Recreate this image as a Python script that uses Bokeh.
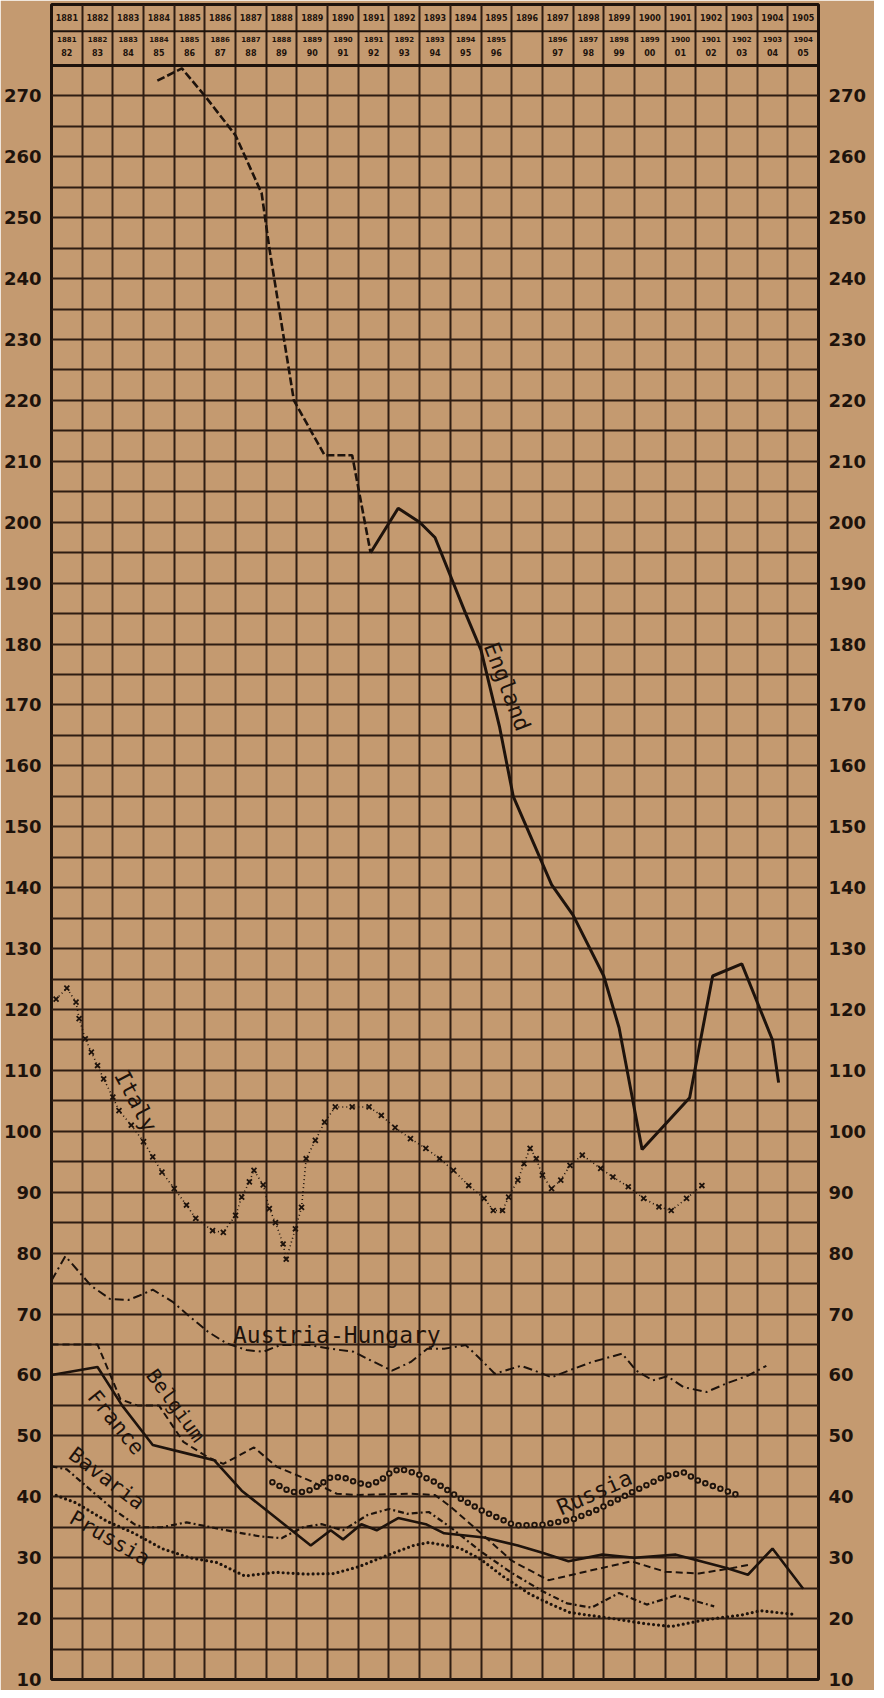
from bokeh.plotting import figure
from bokeh.models import Range1d, LinearAxis, FixedTicker, Grid, Span
from bokeh.core.properties import value
from bokeh.embed import file_html
from bokeh.resources import INLINE

# ---------------- DATA ----------------
header_years = ["1881", "1882", "1883", "1884", "1885", "1886", "1887", "1888", "1889",
                "1890", "1891", "1892", "1893", "1894", "1895", "1896", "1897", "1898",
                "1899", "1900", "1901", "1902", "1903", "1904", "1905"]
header_fiscal_top = ["1881", "1882", "1883", "1884", "1885", "1886", "1887", "1888", "1889",
                     "1890", "1891", "1892", "1893", "1894", "1895", "", "1896", "1897",
                     "1898", "1899", "1900", "1901", "1902", "1903", "1904"]
header_fiscal_bottom = ["82", "83", "84", "85", "86", "87", "88", "89", "90", "91", "92",
                        "93", "94", "95", "96", "", "97", "98", "99", "00", "01", "02",
                        "03", "04", "05"]
y_ticks = [10, 20, 30, 40, 50, 60, 70, 80, 90, 100, 110, 120, 130, 140, 150, 160, 170,
           180, 190, 200, 210, 220, 230, 240, 250, 260, 270]

england_early_year = [1884.45, 1885.25, 1886.0, 1887.0, 1887.85, 1888.1, 1888.9, 1889.9,
                      1890.8, 1891.4]
england_early_value = [272.5, 274.5, 270.0, 263.5, 254.0, 245.0, 220.0, 211.0, 211.0, 195.0]
england_year = [1891.4, 1892.3, 1893.0, 1893.5, 1894.5, 1895.0, 1895.6, 1896.05, 1897.3,
                1898.0, 1899.0, 1899.5, 1900.25, 1901.8, 1902.55, 1903.5, 1904.5, 1904.7]
england_value = [195.0, 202.3, 200.0, 197.5, 185.0, 179.0, 166.5, 155.0, 140.5, 135.5,
                 125.5, 117.0, 97.0, 105.5, 125.5, 127.5, 115.0, 108.0]

italy_year = [1881.15, 1881.5, 1881.8, 1881.9, 1882.1, 1882.3, 1882.5, 1882.7, 1883.0,
              1883.2, 1883.6, 1884.0, 1884.3, 1884.6, 1885.0, 1885.4, 1885.7, 1886.25,
              1886.6, 1887.0, 1887.2, 1887.45, 1887.6, 1887.9, 1888.1, 1888.3, 1888.55,
              1888.65, 1888.95, 1889.15, 1889.3, 1889.6, 1889.9, 1890.25, 1890.8, 1891.35,
              1891.75, 1892.2, 1892.7, 1893.2, 1893.65, 1894.1, 1894.6, 1895.1, 1895.4,
              1895.7, 1895.9, 1896.2, 1896.4, 1896.6, 1896.8, 1897.0, 1897.3, 1897.6,
              1897.9, 1898.3, 1898.9, 1899.3, 1899.8, 1900.3, 1900.8, 1901.2, 1901.7,
              1902.2]
italy_value = [121.7, 123.5, 121.2, 118.5, 115.2, 113.0, 110.8, 108.6, 105.6, 103.4, 101.0,
               98.3, 95.8, 93.3, 90.6, 87.9, 85.7, 83.7, 83.4, 86.2, 89.2, 91.7, 93.6,
               91.2, 87.3, 85.0, 81.5, 79.0, 84.0, 87.5, 95.5, 98.5, 101.5, 104.0, 104.0,
               104.0, 102.6, 100.6, 98.8, 97.2, 95.5, 93.6, 91.1, 89.0, 87.0, 87.0, 89.2,
               92.0, 94.7, 97.2, 95.5, 92.8, 90.6, 92.0, 94.4, 96.1, 93.9, 92.5, 90.9,
               89.0, 87.6, 87.0, 89.0, 91.1]

austria_year = [1881.0, 1881.45, 1882.3, 1882.9, 1883.5, 1883.85, 1884.3, 1884.95, 1885.5,
                1886.1, 1886.7, 1887.35, 1887.9, 1888.45, 1889.4, 1890.1, 1890.85, 1891.4,
                1892.1, 1892.7, 1893.25, 1893.8, 1894.5, 1894.9, 1895.45, 1896.3, 1896.75,
                1897.3, 1897.85, 1898.6, 1899.6, 1900.06, 1900.6, 1901.07, 1901.6, 1902.35,
                1903.0, 1903.7, 1904.3]
austria_value = [75.5, 79.5, 74.6, 72.5, 72.3, 73.0, 74.0, 72.0, 69.6, 67.1, 65.2, 64.1,
                 63.8, 64.9, 64.9, 64.3, 63.8, 62.4, 60.7, 62.1, 64.3, 64.3, 64.9, 63.0,
                 60.2, 61.5, 60.7, 59.6, 60.7, 62.1, 63.5, 60.7, 59.1, 59.8, 58.0, 57.2,
                 58.6, 59.9, 61.5]

belgium_year = [1881.0, 1882.5, 1883.25, 1883.8, 1884.5, 1885.3, 1886.1, 1886.6, 1887.6,
                1888.35, 1889.4, 1890.3, 1891.0, 1892.7, 1893.5, 1894.0, 1895.0, 1896.0,
                1897.2, 1898.4, 1899.9, 1901.0, 1902.1, 1903.2, 1903.7]
belgium_value = [65.0, 65.0, 56.0, 55.0, 55.0, 49.0, 46.5, 45.4, 48.1, 44.9, 42.7, 40.5,
                 40.3, 40.5, 40.3, 38.4, 34.0, 29.5, 26.3, 27.7, 29.4, 27.7, 27.4, 28.3,
                 28.8]

france_year = [1881.0, 1882.5, 1883.3, 1884.3, 1885.5, 1886.3, 1887.2, 1888.2, 1889.45,
               1890.1, 1890.5, 1891.1, 1891.6, 1892.3, 1893.2, 1893.8, 1895.1, 1896.2,
               1897.0, 1897.85, 1898.95, 1900.0, 1901.35, 1902.1, 1903.0, 1903.7, 1904.5,
               1905.5]
france_value = [60.0, 61.3, 55.0, 48.5, 47.0, 46.0, 41.0, 37.0, 32.0, 34.5, 33.0, 35.5,
                34.5, 36.5, 35.5, 34.0, 33.3, 32.0, 30.8, 29.4, 30.5, 30.0, 30.5, 29.5,
                28.3, 27.2, 31.5, 24.9]

bavaria_year = [1881.0, 1881.5, 1882.3, 1883.0, 1883.7, 1884.0, 1884.6, 1885.4, 1886.2,
                1887.0, 1887.8, 1888.5, 1889.2, 1889.8, 1890.5, 1891.3, 1892.0, 1892.6,
                1893.3, 1894.0, 1895.0, 1896.0, 1897.0, 1897.8, 1898.6, 1899.5, 1900.4,
                1901.35, 1902.6]
bavaria_value = [45.0, 44.5, 41.0, 38.0, 35.5, 35.0, 35.0, 35.8, 35.0, 34.2, 33.5, 33.2,
                 35.0, 35.5, 34.5, 37.0, 38.0, 37.2, 37.5, 35.0, 31.0, 27.5, 24.5, 22.5,
                 21.8, 24.2, 22.3, 23.8, 22.0]

prussia_year = [1881.0, 1881.8, 1882.8, 1883.7, 1884.6, 1885.5, 1886.4, 1887.3, 1888.3,
                1889.3, 1890.2, 1891.0, 1892.0, 1892.8, 1893.3, 1894.3, 1895.0, 1895.7,
                1896.6, 1897.3, 1897.9, 1899.3, 1900.3, 1901.2, 1902.3, 1903.5, 1904.1,
                1905.2]
prussia_value = [40.5, 39.0, 36.0, 34.0, 31.5, 30.0, 29.2, 27.0, 27.6, 27.3, 27.4, 28.5,
                 30.5, 32.0, 32.5, 31.6, 29.7, 27.0, 24.0, 22.3, 21.0, 20.0, 19.2, 18.7,
                 19.8, 20.6, 21.3, 20.7]

russia_year = [1888.2, 1888.8, 1889.3, 1889.7, 1890.1, 1890.5, 1890.9, 1891.3, 1891.7,
               1892.0, 1892.35, 1892.9, 1893.5, 1894.3, 1895.0, 1896.1, 1897.0, 1898.0,
               1898.8, 1899.9, 1901.0, 1901.6, 1902.1, 1903.3]
russia_value = [42.4, 40.8, 40.8, 41.8, 43.2, 43.2, 42.4, 41.9, 42.6, 43.8, 44.6, 43.8,
                42.4, 39.8, 37.8, 35.3, 35.4, 36.3, 37.9, 40.7, 43.4, 44.0, 42.6, 40.4]

# ---------------- STYLE ----------------
PAPER = "#c49a70"
INK = "#1e130c"
GRID = "#2f1d12"
FONT = "DejaVu Sans"
LABEL_FONT = "DejaVu Sans Mono"

p = figure(width=874, height=1690,
           x_range=Range1d(1881, 1906), y_range=Range1d(10, 285),
           x_axis_type=None, y_axis_type=None,
           output_backend="svg", toolbar_location=None,
           min_border_left=49, min_border_right=56, min_border_top=4, min_border_bottom=11,
           background_fill_color=PAPER, border_fill_color=PAPER)
p.outline_line_color = INK
p.outline_line_width = 3

col_edges = [int(y) for y in header_years] + [int(header_years[-1]) + 1]
row_lines = list(range(10, 280, 5))
p.add_layout(Grid(dimension=0, ticker=FixedTicker(ticks=col_edges),
                  grid_line_color=GRID, grid_line_width=2))
p.add_layout(Grid(dimension=1, ticker=FixedTicker(ticks=row_lines),
                  grid_line_color=GRID, grid_line_width=2))
p.add_layout(Span(location=275, dimension="width", line_color=INK, line_width=3))
p.add_layout(Span(location=280.6, dimension="width", line_color=INK, line_width=2))

for loc in ("left", "right"):
    ax = LinearAxis(ticker=FixedTicker(ticks=y_ticks),
                    axis_line_color=None, major_tick_line_color=None,
                    minor_tick_line_color=None, major_label_standoff=4,
                    major_label_text_font=FONT, major_label_text_font_size="18px",
                    major_label_text_font_style="bold", major_label_text_color=INK)
    p.add_layout(ax, loc)

# header texts
hx = [int(y) + 0.5 for y in header_years]
p.text(x=hx, y=[282.8] * len(hx), text=header_years, text_font=value(FONT),
       text_font_size="8px", text_font_style="bold", text_align="center",
       text_baseline="middle", text_color=INK)
p.text(x=hx, y=[279.3] * len(hx), text=header_fiscal_top, text_font=value(FONT),
       text_font_size="7px", text_font_style="bold", text_align="center",
       text_baseline="middle", text_color=INK)
p.text(x=hx, y=[277.1] * len(hx), text=header_fiscal_bottom, text_font=value(FONT),
       text_font_size="8px", text_font_style="bold", text_align="center",
       text_baseline="middle", text_color=INK)

# series
p.line(england_early_year, england_early_value, line_color=INK, line_width=2.6,
       line_dash="8 3")
p.line(england_year, england_value, line_color=INK, line_width=3)

p.line(italy_year, italy_value, line_color=INK, line_width=1.6, line_dash="1 3")
p.scatter(italy_year, italy_value, marker="x", size=7, line_color=INK, line_width=1.8)

p.line(austria_year, austria_value, line_color=INK, line_width=2, line_dash="9 4 2 4")
p.line(belgium_year, belgium_value, line_color=INK, line_width=2, line_dash="7 4")
p.line(france_year, france_value, line_color=INK, line_width=2.6)
p.line(bavaria_year, bavaria_value, line_color=INK, line_width=2.2, line_dash="6 3 2 3")
p.line(prussia_year, prussia_value, line_color=INK, line_width=3.2, line_dash="0 5",
       line_cap="round")
p.line(russia_year, russia_value, line_color=INK, line_width=6.5, line_dash="0 8",
       line_cap="round")
p.line(russia_year, russia_value, line_color=PAPER, line_width=2.8, line_dash="0 8",
       line_cap="round")

labels = [
    ("England", 1895.85, 173.0, -69, "22px"),
    ("Italy", 1883.75, 105.0, -62, "22px"),
    ("Austria-Hungary", 1890.3, 66.5, 0, "23px"),
    ("Belgium", 1885.05, 55.0, -54, "20px"),
    ("France", 1883.1, 52.2, -51, "21px"),
    ("Bavaria", 1882.8, 43.0, -37, "21px"),
    ("Prussia", 1882.9, 33.2, -30, "21px"),
    ("Russia", 1898.7, 40.7, 24, "22px"),
]
for t, x, y, a, fs in labels:
    p.text(x=[x], y=[y], text=[t], angle=a, angle_units="deg",
           text_font=value(LABEL_FONT), text_font_size=fs, text_align="center",
           text_baseline="middle", text_color=INK)

html = file_html(p, INLINE)
html = html.replace("<body>", '<body style="background-color:%s;">' % PAPER, 1)
open("out.html", "w").write(html)
